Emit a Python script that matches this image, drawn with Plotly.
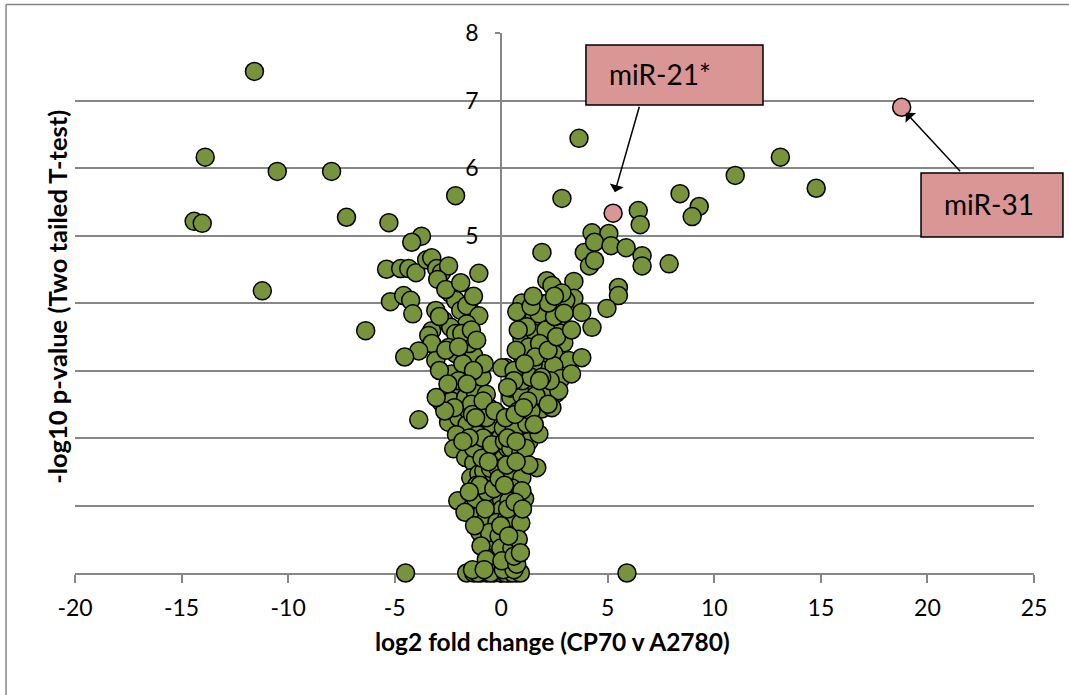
import plotly.graph_objects as go

# ---- data ----
# left outliers
lo_x = [-11.58, -13.89, -10.51, -7.96, -14.41, -14.03, -7.26, -11.21, -6.36, -2.14, -5.27, -4.49, -3.87]
lo_y = [7.43, 6.16, 5.95, 5.95, 5.21, 5.18, 5.27, 4.18, 3.59, 5.59, 5.19, 0.0, 2.27]

# left arm of the volcano
la_x = [-3.74, -4.20, -5.38, -4.72, -4.34, -4.00, -3.50, -3.26, -3.03, -2.80, -2.47, -2.98, -1.05,
        -5.20, -4.58, -4.25, -4.15, -3.07, -2.37, -2.14, -1.90, -1.62, -1.05, -1.62, -2.70, -2.37, -2.14,
        -3.26, -3.40, -3.26, -3.87, -4.53, -3.07, -2.47, -2.14, -1.29, -2.33, -1.62, -1.20, -1.86,
        -2.84, -2.23, -1.05, -2.79, -2.33, -1.67, -1.20, -2.47, -1.99, -1.52, -1.05, -0.58, -1.15, -0.58,
        -1.80, -1.50, -2.00, -1.40, -0.90, -0.80, -1.70, -1.30, -0.95, -1.60, -2.20, -0.70,
        -2.60, -2.90, -2.50, -1.85, -1.40, -2.00, -1.15, -1.60, -2.65, -3.05, -1.35, -0.85, -2.90,
        -2.60, -1.90, -1.30, -2.10]
la_y = [4.99, 4.90, 4.50, 4.51, 4.51, 4.45, 4.64, 4.67, 4.51, 4.45, 4.55, 4.35, 4.44,
        4.02, 4.11, 4.04, 3.84, 3.89, 4.14, 4.04, 3.89, 3.96, 3.81, 3.69, 3.74, 3.64, 3.55,
        3.59, 3.52, 3.40, 3.29, 3.20, 3.15, 3.34, 3.25, 3.22, 2.95, 2.95, 2.80, 2.74,
        2.60, 2.63, 2.63, 2.52, 2.55, 2.60, 2.66, 2.23, 2.30, 2.40, 2.43, 2.45, 2.26, 2.15,
        3.10, 3.40, 2.85, 2.50, 2.90, 3.10, 3.50, 3.00, 2.30, 2.20, 2.45, 2.65,
        3.30, 3.00, 2.80, 3.55, 3.60, 3.35, 3.45, 2.80, 2.40, 2.60, 2.35, 2.55, 3.80,
        4.20, 4.30, 4.10, 2.05]

# centre of the volcano
c_x = [-0.96, -0.25, -2.23, -1.67, -1.29, -0.72, -0.25, -1.43, -1.05, -0.68, -0.25, -0.82, -2.04,
       -1.43, -0.91, -0.44, -0.11, -0.72, -0.11, -0.44, -0.02, -0.44, -0.35, -0.44,
       -1.10, -0.60, -1.30, -0.90, -0.50, -1.15, -0.85, -0.55, -1.20, -0.30, -0.60, -0.20, -0.80,
       -1.00, -0.25, 0.15, 0.20, 0.10, 0.00, 0.20, 0.10, -0.15, -0.05, 0.05,
       -0.70, -0.30, -0.85, -0.45, -0.15, -0.65, -1.00, -0.35, -0.75, -0.20, -0.55, -0.95, -0.10,
       -0.35, -0.70, 0.35, 0.55, 0.25, 0.60, 0.30, 0.75, 0.10, 0.45, -1.20, -1.50, -1.80, -1.50,
       -1.70, -1.25, 0.85, 1.30, 1.10, 0.75, 0.15, -0.10, -0.60,
       -1.62, -1.29, -0.96, -0.68, -0.35, -0.02, 0.00, 0.36, 0.73, -0.50, 0.20, 0.55, -1.10, 0.90,
       -1.35, -0.80, 0.10, 0.60]
c_y = [1.93, 1.96, 1.84, 1.71, 1.63, 1.62, 1.71, 1.41, 1.47, 1.34, 1.22, 1.51, 1.07,
       0.95, 0.89, 0.85, 0.99, 0.55, 0.37, 0.28, 0.13, 2.21, 1.47, 0.73,
       2.05, 1.85, 1.85, 1.70, 1.55, 1.30, 1.15, 1.05, 1.10, 0.60, 0.40, 0.20, 0.75,
       0.60, 0.45, 0.50, 0.25, 0.85, 1.10, 1.40, 1.70, 2.35, 2.00, 0.95,
       2.30, 2.40, 2.00, 1.90, 1.55, 1.20, 1.30, 1.25, 0.95, 0.75, 0.60, 0.40, 0.55,
       0.10, 0.20, 0.10, 0.60, 0.80, 1.35, 1.85, 2.15, 2.15, 0.30, 2.30, 2.00, 1.95, 1.20,
       0.90, 0.70, 1.55, 1.95, 1.10, 0.85, 1.95, 1.40, 1.65,
       0.0, 0.0, 0.0, 0.0, 0.0, 0.0, 0.0, 0.0, 0.0, 0.0, 0.0, 0.0, 0.0, 0.0,
       0.05, 0.05, 0.05, 0.05]

# right arm of the volcano
ra_x = [1.63, 2.57, 1.91, 2.38, 0.59, 1.20, 1.77, 1.67, 0.45, 0.92, 1.15, 0.50, 0.97, 0.50, 0.97,
        0.36, 0.45, 0.92, -0.02, -0.02, 0.50, 0.03, 0.73,
        0.45, 0.20, 0.80, 1.40, 0.30, 0.70, 1.30, 0.25, 0.70, 0.30, 0.65, 0.80, 0.35, 0.60, 0.90, 1.00, 0.15,
        2.14, 2.38, 3.41, 3.41, 3.78, 4.26, 5.50, 5.50, 4.96, 0.97, 0.73, 1.91, 2.70, 3.03, 2.85,
        1.53, 1.77, 2.80, 2.70, 0.97, 1.63, 2.33, 2.94, 0.97, 1.86, 2.47, 3.17, 3.78, 0.22, 1.20,
        2.00, 2.47, 2.80, 0.45, 0.83, 1.63, 2.10, 2.70, 0.97, 1.63, 0.03,
        1.30, 1.50, 1.20, 2.10, 1.00, 1.40, 2.30, 1.80, 2.50, 0.70, 1.90, 2.20, 1.40,
        0.60, 1.60, 2.20, 1.10, 0.80, 2.60, 3.30, 1.25, 2.20, 1.80, 0.60, 2.95, 1.50, 2.50,
        0.65, 1.55, 1.05, 0.30, 3.30,
        1.91, 4.26, 5.05, 3.90, 4.38, 5.15, 5.86, 4.14, 4.38, 6.61, 6.61, 7.88]
ra_y = [2.66, 2.66, 2.43, 2.45, 2.11, 2.21, 2.06, 1.56, 1.85, 1.78, 1.85, 1.51, 1.41, 1.26, 1.22,
        1.07, 0.82, 0.74, 0.70, 0.37, 0.37, 0.18, 0.13,
        2.60, 2.30, 2.40, 2.40, 2.00, 1.95, 1.60, 1.60, 1.65, 0.95, 1.05, 0.50, 0.55, 0.25, 0.30, 0.95, 1.30,
        4.33, 4.26, 4.32, 4.07, 3.86, 3.64, 4.23, 4.11, 3.92, 4.00, 3.87, 3.99, 3.96, 4.04, 4.15,
        3.77, 3.84, 3.69, 3.56, 3.47, 3.55, 3.47, 3.41, 3.22, 3.22, 3.25, 3.15, 3.19, 3.04, 2.95,
        3.00, 3.07, 2.88, 2.74, 2.80, 2.74, 2.70, 2.70, 2.63, 2.63, 3.04,
        3.35, 3.10, 3.65, 3.60, 2.85, 2.90, 2.85, 3.40, 3.80, 3.30, 2.90, 4.00, 3.95,
        3.00, 3.20, 3.30, 3.10, 3.60, 3.50, 3.60, 2.55, 2.50, 2.85, 2.85, 3.85, 4.10, 4.10,
        2.35, 2.20, 2.45, 2.75, 2.95,
        4.75, 5.04, 5.03, 4.75, 4.90, 4.85, 4.82, 4.55, 4.63, 4.70, 4.55, 4.58]

# right outliers
ro_x = [3.65, 2.85, 6.43, 6.52, 8.39, 9.29, 8.96, 10.98, 13.10, 14.78, 5.90]
ro_y = [6.44, 5.55, 5.37, 5.16, 5.62, 5.43, 5.28, 5.89, 6.16, 5.70, 0.0]

# highlighted miRNAs
hl_names = ["miR-21*", "miR-31"]
hl_x = [5.25, 18.79]
hl_y = [5.33, 6.90]

x_ticks = [-20, -15, -10, -5, 0, 5, 10, 15, 20, 25]
x_ticktext = ["-20", "-15", "-10", "-5", "0", "5", "10", "15", "20", "25"]
y_ticks = [0, 1, 2, 3, 4, 5, 6, 7, 8]

all_x = lo_x + la_x + c_x + ra_x + ro_x
all_y = lo_y + la_y + c_y + ra_y + ro_y

FONT = "Lato"
GRID = "#868686"

fig = go.Figure()
fig.add_trace(go.Scatter(
    x=all_x, y=all_y, mode="markers", cliponaxis=False, showlegend=False,
    marker=dict(size=18, color="#77933C", line=dict(color="black", width=1.5)),
))
fig.add_trace(go.Scatter(
    x=hl_x, y=hl_y, mode="markers", cliponaxis=False, showlegend=False,
    marker=dict(size=18, color="#D99694", line=dict(color="black", width=1.5)),
))

fig.update_layout(
    width=1069, height=695,
    margin=dict(l=75, r=35, t=33, b=122),
    paper_bgcolor="white", plot_bgcolor="white",
    font=dict(family=FONT, color="black"),
    xaxis=dict(
        range=[-20, 25], tickvals=x_ticks, ticktext=x_ticktext, showgrid=False, zeroline=False,
        showline=True, linecolor=GRID, linewidth=2,
        ticks="outside", ticklen=8, tickwidth=2, tickcolor=GRID, ticklabelstandoff=5,
        tickfont=dict(size=23, family=FONT), layer="below traces",
    ),
    yaxis=dict(
        range=[0, 8], tickvals=y_ticks, showgrid=True, gridcolor=GRID, gridwidth=1.5,
        zeroline=False, anchor="free", position=20 / 45,
        showline=True, linecolor=GRID, linewidth=2,
        ticks="outside", ticklen=5, tickwidth=1.5, tickcolor=GRID, ticklabelstandoff=12,
        tickfont=dict(size=23, family=FONT), layer="below traces",
    ),
)

# axis titles
fig.add_annotation(xref="paper", yref="paper", x=0.498, y=-0.126, xanchor="center", yanchor="middle",
                   text="<b>log2 fold change (CP70 v A2780)</b>", showarrow=False,
                   font=dict(size=24.5, family=FONT))
fig.add_annotation(xref="paper", yref="paper", x=-0.019, y=0.511, xanchor="center", yanchor="middle",
                   textangle=-90, text="<b>-log10 p-value (Two tailed T-test)</b>", showarrow=False,
                   font=dict(size=25.5, family=FONT))

# label boxes
boxes = [(0.5328, 0.8667, 0.7174, 0.9778), (0.8822, 0.6222, 1.0302, 0.7407)]
for (x0, y0, x1, y1) in boxes:
    fig.add_shape(type="rect", xref="paper", yref="paper", x0=x0, y0=y0, x1=x1, y1=y1,
                  fillcolor="#D99694", line=dict(color="black", width=1.5), layer="above")
text_pos = [(0.5547, 0.924), (0.904, 0.683)]
for name, (tx, ty) in zip(hl_names, text_pos):
    fig.add_annotation(xref="paper", yref="paper", x=tx, y=ty, xanchor="left", yanchor="middle",
                       text=name, showarrow=False, font=dict(size=28, family=FONT))

# arrows
arrows = [((5.33, 5.64), (6.5, 6.93)), ((18.99, 6.82), (21.6, 5.93))]
for (hx, hy), (tx, ty) in arrows:
    fig.add_annotation(x=hx, y=hy, ax=tx, ay=ty, xref="x", yref="y", axref="x", ayref="y",
                       text="", showarrow=True, arrowhead=1, arrowsize=1.6, arrowwidth=1.5,
                       arrowcolor="black")

# outer chart border (left and top edges visible)
fig.add_shape(type="line", xref="paper", yref="paper", x0=-0.0719, y0=1.0528, x1=-0.0719, y1=-0.3,
              line=dict(color=GRID, width=1.5))
fig.add_shape(type="line", xref="paper", yref="paper", x0=-0.0719, y0=1.0528, x1=1.2, y1=1.0528,
              line=dict(color=GRID, width=1.5))

fig.write_html("out.html")
